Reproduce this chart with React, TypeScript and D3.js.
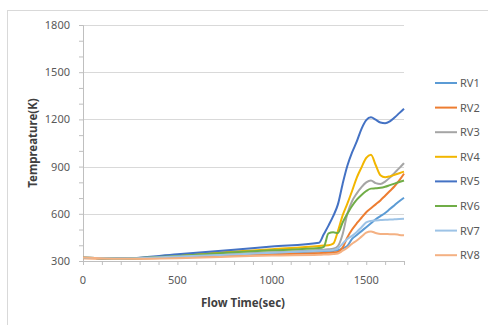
import React, { useEffect, useRef } from "react";
import * as d3 from "d3";

// sample times (sec) shared by every series
const times = [0, 200, 500, 800, 1000, 1250, 1275, 1300, 1325, 1350, 1375, 1400, 1425, 1450, 1475, 1500, 1525, 1550, 1575, 1600, 1625, 1650, 1675, 1700];

const rv1 = [320, 315, 325, 340, 350, 360, 361, 362, 364, 368, 380, 395, 440, 465, 490, 515, 540, 565, 585, 605, 630, 655, 680, 702];
const rv2 = [318, 314, 322, 335, 342, 350, 351, 352, 354, 358, 385, 450, 500, 540, 575, 610, 635, 660, 685, 715, 745, 775, 812, 855];
const rv3 = [320, 315, 328, 345, 355, 370, 372, 374, 378, 395, 470, 600, 680, 730, 770, 800, 812, 795, 790, 805, 830, 860, 890, 922];
const rv4 = [320, 315, 335, 360, 375, 395, 398, 400, 410, 490, 590, 665, 745, 830, 895, 955, 975, 910, 845, 832, 838, 848, 858, 868];
const rv5 = [320, 316, 343, 372, 392, 416, 470, 525, 585, 660, 790, 905, 990, 1060, 1140, 1195, 1213, 1198, 1180, 1176, 1188, 1212, 1240, 1268];
const rv6 = [320, 315, 332, 355, 368, 382, 390, 475, 482, 478, 545, 600, 650, 690, 720, 745, 760, 762, 765, 772, 782, 792, 802, 812];
const rv7 = [320, 316, 328, 342, 352, 365, 366, 367, 370, 380, 410, 440, 460, 485, 515, 545, 555, 558, 560, 562, 563, 565, 567, 568];
const rv8 = [322, 314, 318, 328, 335, 340, 341, 342, 344, 348, 365, 385, 410, 430, 455, 480, 488, 478, 472, 472, 470, 470, 466, 463];

const seriesNames = ["RV1", "RV2", "RV3", "RV4", "RV5", "RV6", "RV7", "RV8"];
const seriesValues = [rv1, rv2, rv3, rv4, rv5, rv6, rv7, rv8];
const colors = ["#5B9BD5", "#ED7D31", "#A5A5A5", "#F2B600", "#4472C4", "#70AD47", "#9DC3E6", "#F4B183"];

const xTicks = [0, 500, 1000, 1500];
const yTicks = [300, 600, 900, 1200, 1500, 1800];

const App = () => {
  const svgRef = useRef<SVGSVGElement | null>(null);

  useEffect(() => {
    if (!svgRef.current) return;
    const font = "'Noto Sans', 'Open Sans', sans-serif";

    const svg = d3.select(svgRef.current);
    svg.selectAll("*").remove();

    // outer chart border
    svg
      .append("rect")
      .attr("x", 7.5)
      .attr("y", 10.5)
      .attr("width", 500)
      .attr("height", 400)
      .attr("fill", "#fff")
      .attr("stroke", "#d9d9d9");

    const x = d3.scaleLinear().domain([0, 1700]).range([83, 404]);
    const y = d3.scaleLinear().domain([300, 1800]).range([261, 25]);

    // gridlines
    svg
      .append("g")
      .selectAll("line")
      .data(yTicks.slice(1))
      .enter()
      .append("line")
      .attr("x1", x(0))
      .attr("x2", x(1700))
      .attr("y1", (d) => Math.round(y(d)) + 0.5)
      .attr("y2", (d) => Math.round(y(d)) + 0.5)
      .attr("stroke", "#d9d9d9")
      .attr("stroke-width", 1.2);

    // y axis
    const yAxis = svg
      .append("g")
      .attr("transform", `translate(${x(0)},0)`)
      .call(d3.axisLeft(y).tickValues(d3.range(300, 1801, 100)).tickSize(4).tickFormat(() => ""));
    yAxis.select(".domain").attr("stroke", "#bfbfbf");
    yAxis.selectAll(".tick line").attr("stroke", "#bfbfbf");

    svg
      .append("g")
      .selectAll("text")
      .data(yTicks)
      .enter()
      .append("text")
      .attr("x", 70)
      .attr("y", (d) => y(d) + 4)
      .attr("text-anchor", "end")
      .attr("fill", "#595959")
      .style("font-family", font)
      .style("font-size", "11px")
      .text((d) => d);

    // x axis
    const xAxis = svg
      .append("g")
      .attr("transform", `translate(0,${y(300)})`)
      .call(d3.axisBottom(x).tickValues(d3.range(0, 1701, 100)).tickSize(4).tickFormat(() => ""));
    xAxis.select(".domain").attr("stroke", "#bfbfbf");
    xAxis.selectAll(".tick line").attr("stroke", "#bfbfbf");

    svg
      .append("g")
      .selectAll("text")
      .data(xTicks)
      .enter()
      .append("text")
      .attr("x", (d) => x(d))
      .attr("y", 284)
      .attr("text-anchor", "middle")
      .attr("fill", "#595959")
      .style("font-family", font)
      .style("font-size", "11px")
      .text((d) => d);

    // axis titles
    svg
      .append("text")
      .attr("x", 243)
      .attr("y", 307)
      .attr("text-anchor", "middle")
      .attr("fill", "#404040")
      .style("font-family", font)
      .style("font-size", "11.5px")
      .style("font-weight", "bold")
      .text("Flow Time(sec)");

    svg
      .append("text")
      .attr("transform", `translate(37,143) rotate(-90)`)
      .attr("text-anchor", "middle")
      .attr("fill", "#404040")
      .style("font-family", font)
      .style("font-size", "11.5px")
      .style("font-weight", "bold")
      .text("Tempreature(K)");

    // series lines
    const line = d3
      .line<number>()
      .x((_, i) => x(times[i]))
      .y((d) => y(d))
      .curve(d3.curveMonotoneX);

    svg
      .append("g")
      .selectAll("path")
      .data(seriesValues)
      .enter()
      .append("path")
      .attr("fill", "none")
      .attr("stroke", (_, i) => colors[i])
      .attr("stroke-width", 2)
      .attr("stroke-linejoin", "round")
      .attr("d", (d) => line(d));

    // legend
    const legend = svg.append("g").attr("transform", "translate(435,83)");
    seriesNames.forEach((name, i) => {
      const row = legend.append("g").attr("transform", `translate(0,${i * 24.6})`);
      row
        .append("line")
        .attr("x1", 0)
        .attr("x2", 22)
        .attr("y1", 0)
        .attr("y2", 0)
        .attr("stroke", colors[i])
        .attr("stroke-width", 2);
      row
        .append("text")
        .attr("x", 25)
        .attr("y", 4)
        .attr("fill", "#595959")
        .style("font-family", font)
        .style("font-size", "11px")
        .text(name);
    });
  }, []);

  return (
    <svg
      ref={svgRef}
      width={488}
      height={325}
      style={{ position: "absolute", left: 0, top: 0, background: "#fff" }}
    />
  );
};

export default App;
